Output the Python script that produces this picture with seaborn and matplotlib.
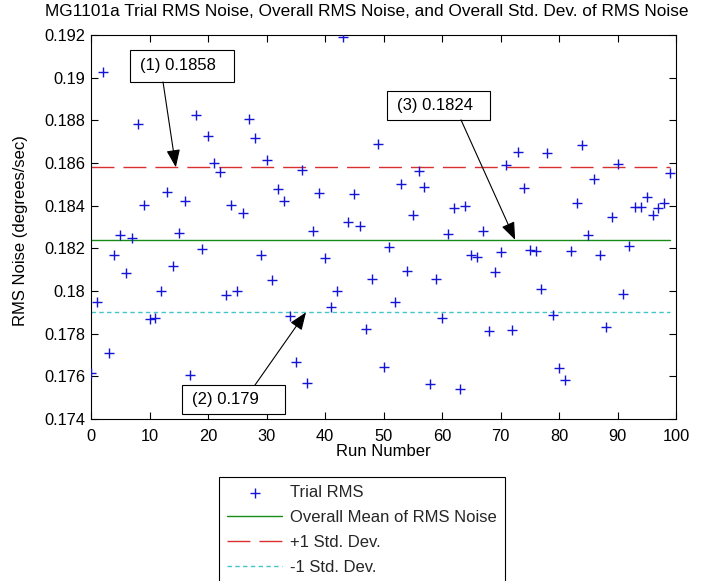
import matplotlib
matplotlib.use("Agg")
import matplotlib.pyplot as plt
import seaborn as sns
from matplotlib.patches import Rectangle

# Trial RMS noise for each run (degrees/sec)
runs = list(range(100))
trial_rms = [
    0.17614, 0.17950, 0.19025, 0.17708, 0.18169, 0.18263, 0.18083, 0.18247, 0.18783, 0.18403,
    0.17870, 0.17875, 0.18002, 0.18466, 0.18119, 0.18270, 0.18422, 0.17606, 0.18825, 0.18195,
    0.18728, 0.18598, 0.18559, 0.17980, 0.18403, 0.18000, 0.18364, 0.18808, 0.18716, 0.18167,
    0.18614, 0.18052, 0.18478, 0.18422, 0.17883, 0.17669, 0.18569, 0.17567, 0.18283, 0.18458,
    0.18156, 0.17923, 0.18000, 0.19192, 0.18322, 0.18455, 0.18305, 0.17823, 0.18058, 0.18688,
    0.17642, 0.18205, 0.17950, 0.18500, 0.18095, 0.18356, 0.18564, 0.18489, 0.17563, 0.18058,
    0.17875, 0.18266, 0.18388, 0.17539, 0.18400, 0.18169, 0.18161, 0.18283, 0.17811, 0.18088,
    0.18181, 0.18589, 0.17817, 0.18650, 0.18481, 0.18192, 0.18189, 0.18008, 0.18645, 0.17888,
    0.17638, 0.17583, 0.18189, 0.18414, 0.18683, 0.18263, 0.18525, 0.18167, 0.17830, 0.18345,
    0.18595, 0.17986, 0.18211, 0.18395, 0.18395, 0.18442, 0.18356, 0.18388, 0.18414, 0.18555,
]

# Overall statistics
mean_rms = 0.1824
plus_std = 0.1858
minus_std = 0.1790

x_ticks = [0, 10, 20, 30, 40, 50, 60, 70, 80, 90, 100]
y_ticks = [0.174, 0.176, 0.178, 0.180, 0.182, 0.184, 0.186, 0.188, 0.190, 0.192]
y_tick_labels = ["0.174", "0.176", "0.178", "0.18", "0.182", "0.184", "0.186", "0.188", "0.19", "0.192"]

title = "MG1101a Trial RMS Noise, Overall RMS Noise, and Overall Std. Dev. of RMS Noise"
legend_labels = ["Trial RMS", "Overall Mean of RMS Noise", "+1 Std. Dev.", "-1 Std. Dev."]

sns.set_theme(style="white")
plt.rcParams["font.family"] = ["Liberation Sans", "DejaVu Sans"]
plt.rcParams["lines.scale_dashes"] = False

FS = 12
TICK_FS = 11.8
W, H = 703, 581
fig = plt.figure(figsize=(W / 100, H / 100), dpi=100)
ax = fig.add_axes([91 / W, 1 - 419 / H, 585 / W, 384 / H])

span = [runs[0], runs[-1]]
sns.lineplot(x=span, y=[mean_rms, mean_rms], color="#178a17", lw=1.0,
             label=legend_labels[1], ax=ax, zorder=2)
sns.lineplot(x=span, y=[plus_std, plus_std], color="#d83030", lw=1.0,
             label=legend_labels[2], ax=ax, zorder=2)
ax.lines[-1].set_dashes((16.5, 6.5))
sns.lineplot(x=span, y=[minus_std, minus_std], color="#45c4c8", lw=1.0,
             label=legend_labels[3], ax=ax, zorder=2)
ax.lines[-1].set_dashes((3.2, 2.4))

sns.scatterplot(x=runs, y=trial_rms, marker="+", s=48, color="#1414d8",
                linewidth=1.0, label=legend_labels[0], ax=ax, zorder=3)

ax.set_xlim(0, 100)
ax.set_ylim(0.174, 0.192)
ax.set_xticks(x_ticks)
ax.set_yticks(y_ticks)
ax.set_yticklabels(y_tick_labels)
ax.tick_params(direction="in", length=5, width=0.8, colors="black",
               bottom=True, left=True, top=True, right=True,
               labelsize=TICK_FS, pad=4)
ax.tick_params(axis="x", pad=7)
for s in ax.spines.values():
    s.set_color("black")
    s.set_linewidth(0.8)

ax.set_xlabel("Run Number", fontsize=FS, color="black")
ax.xaxis.set_label_coords(0.5, (419 - 444) / 384)
ax.set_ylabel("RMS Noise (degrees/sec)", fontsize=FS, color="black")
ax.yaxis.set_label_coords((28 - 91) / 585, 0.49)
ax.set_title(title, fontsize=12.4, color="black", pad=14, x=(367 - 91) / 585)

# Callout boxes with arrows pointing at each reference line
callouts = [
    # (label, box x0, x1, y0, y1, arrow tail, arrow tip)
    (f"(1) {plus_std:g}", 6.67, 24.44, 0.18980, 0.19130, (12.31, 0.18980), (14.5, plus_std)),
    (f"(2) {minus_std:g}", 15.6, 33.16, 0.17423, 0.17559, (28.03, 0.17559), (36.75, minus_std)),
    (f"(3) {mean_rms:g}", 50.6, 68.2, 0.18802, 0.18938, (63.25, 0.18802), (72.5, mean_rms)),
]
for text, x0, x1, y0, y1, tail, tip in callouts:
    ax.add_patch(Rectangle((x0, y0), x1 - x0, y1 - y0, facecolor="white",
                           edgecolor="black", lw=0.8, zorder=5, clip_on=False))
    ax.text(x0 + 1.7, (y0 + y1) / 2, text, fontsize=FS, ha="left", va="center",
            color="black", zorder=6)
    ax.annotate("", xy=tip, xytext=tail,
                arrowprops=dict(arrowstyle="-|>,head_length=0.9,head_width=0.35",
                                color="black", lw=0.8, shrinkA=0, shrinkB=0,
                                mutation_scale=12),
                zorder=6)

handles, labels = ax.get_legend_handles_labels()
order = [labels.index(l) for l in legend_labels]
leg = ax.legend([handles[i] for i in order], [labels[i] for i in order],
                loc="upper left", bbox_to_anchor=(219 / W, 1 - 477 / H),
                bbox_transform=fig.transFigure, borderaxespad=0,
                frameon=True, fancybox=False, framealpha=1, edgecolor="black",
                fontsize=FS, handlelength=3.3, handletextpad=0.45,
                labelspacing=0.6, borderpad=0.5, scatterpoints=1)
leg.get_frame().set_linewidth(0.8)

fig.savefig("out.png", dpi=100, facecolor="white")
